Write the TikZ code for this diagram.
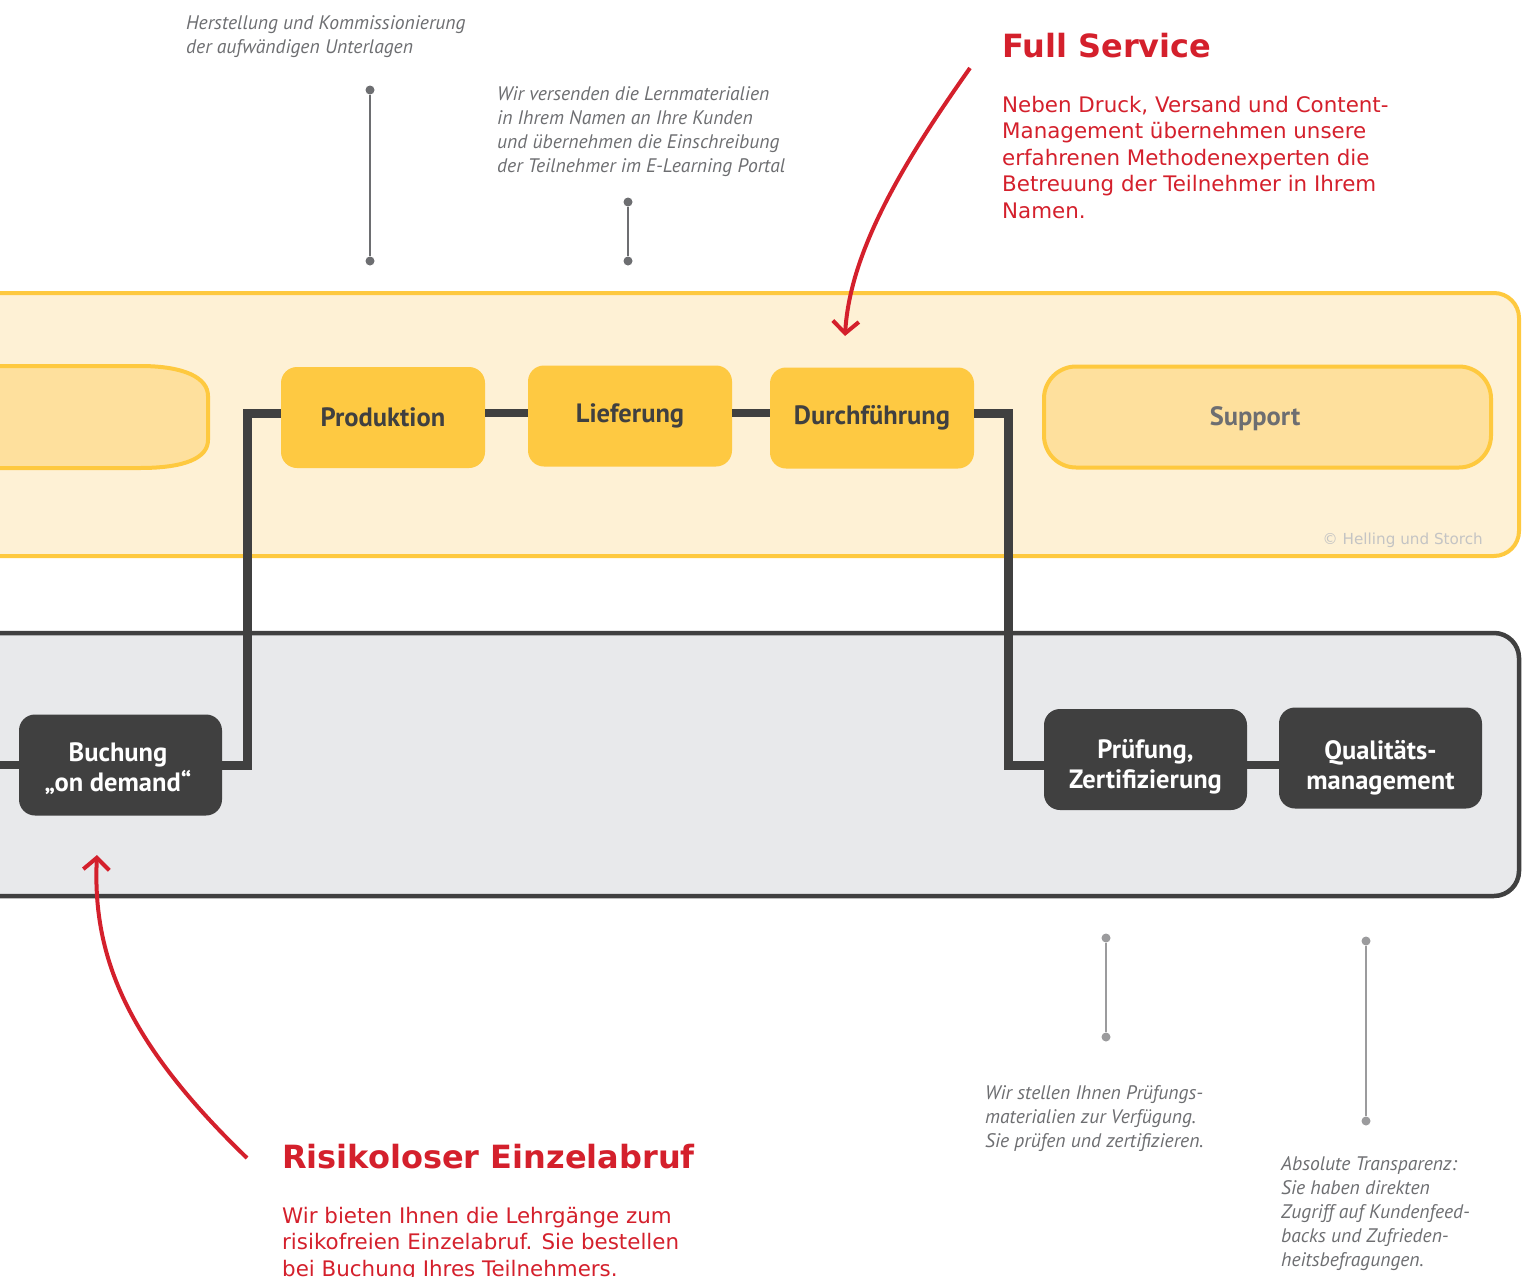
\documentclass[tikz,border=0pt]{standalone}
\usepackage{fontspec}
\setmainfont{PT Sans}
\newfontfamily\vfont{DejaVu Sans}
\usetikzlibrary{arrows.meta}
\definecolor{ybord}{HTML}{FEC93F}
\definecolor{yfill}{HTML}{FEF1D5}
\definecolor{ylight}{HTML}{FEE09D}
\definecolor{ymid}{HTML}{FEC942}
\definecolor{dgray}{HTML}{404040}
\definecolor{gband}{HTML}{E8E9EB}
\definecolor{rtext}{HTML}{D4202C}
\definecolor{gtext}{HTML}{6D6E71}
\definecolor{pintop}{HTML}{6D6E71}
\definecolor{pinbot}{HTML}{9B9B9D}
\definecolor{copyc}{HTML}{C4C4C4}
\newcommand{\ph}{\vphantom{Üg}}
\tikzset{
  ynode/.style={fill=ymid, rounded corners=16, minimum width=204, minimum height=101, inner sep=0,
    text=dgray, font=\bfseries\fontsize{26.5}{30}\selectfont},
  dnode/.style={fill=dgray, rounded corners=16, minimum width=203, minimum height=101, inner sep=0},
  dlabel/.style={inner sep=0, text=white, align=center, font=\bfseries\fontsize{26.5}{30}\selectfont},
  conn/.style={draw=dgray, line width=9},
  thinconn/.style={draw=dgray, line width=8},
  pindot/.style={circle, inner sep=0, minimum size=9},
  graytxt/.style={anchor=north west, inner sep=0, align=left, text=gtext,
    font=\itshape\fontsize{19.6}{24}\selectfont},
  redtitle/.style={anchor=north west, inner sep=0, align=left, text=rtext,
    font=\vfont\bfseries\fontsize{32}{38}\selectfont},
  redbody/.style={anchor=north west, inner sep=0, align=left, text=rtext,
    font=\vfont\fontsize{21.4}{26.5}\selectfont},
  redarrow/.style={draw=rtext, line width=4, -{Straight Barb[length=12, width=26, line width=4]}}
}
\begin{document}
\begin{tikzpicture}[x=1pt,y=-1pt]
\useasboundingbox (0,0) rectangle (1526,1277);
\clip (0,0) rectangle (1526,1277);
% bands
\draw[fill=yfill, draw=ybord, line width=4, rounded corners=25] (-40,293) rectangle (1519,556);
\draw[fill=gband, draw=dgray, line width=4.5, rounded corners=25] (-40,633) rectangle (1519,896);
% left partial node
\draw[fill=ylight, draw=ybord, line width=4] (-20,366) -- (140,366) .. controls (185,366) and (208,378) .. (208,396) -- (208,440) .. controls (208,458) and (185,468) .. (140,468) -- (-20,468) -- cycle;
% support
\node[fill=ylight, draw=ybord, line width=4, rounded corners=32, minimum width=447, minimum height=101, inner sep=0] (supp) at (1267.5,417) {};
\node[text=gtext, inner sep=0, font=\bfseries\fontsize{26.5}{30}\selectfont] (supptxt) at (1255,419) {Support};
\node[anchor=east, inner sep=0, text=copyc, font=\vfont\fontsize{15.2}{17}\selectfont] (copy) at (1483,540) {© Helling und Storch};
% yellow nodes
\node[ynode] (prod) at (383,417.5) {Produktion};
\node[ynode] (lief) at (630,416) {Lieferung};
\node[ynode] (durch) at (872,418) {Durchführung};
% dark nodes
\node[dnode] (buch) at (120.5,765) {};
\node[dnode] (pruef) at (1145.5,759.5) {};
\node[dnode] (qual) at (1380.5,758) {};
\node[dlabel] (buchT) at (118,768) {\ph Buchung\\\ph„on demand“};
\node[dlabel] (pruefT) at (1145.5,765) {\ph Prüfung,\\\ph Zertifizierung};
\node[dlabel] (qualT) at (1380.5,766) {\ph Qualitäts-\\\ph management};
% connectors
\coordinate (lj) at (247,413);
\coordinate (rj) at (1008,413);
\coordinate (lfree) at (-10,765);
\draw[conn] (prod.west |- lj) -- (lj) |- (buch.east);
\draw[thinconn] (prod.east |- lj) -- (lief.west |- lj);
\draw[thinconn] (lief.east |- lj) -- (durch.west |- lj);
\draw[conn] (durch.east |- rj) -- (rj) |- (pruef.west |- buch.east);
\draw[thinconn] (pruef.east |- buch.east) -- (qual.west |- buch.east);
\draw[thinconn] (lfree) -- (buch.west);
% pins
\node[pindot, fill=pintop] (p1a) at (370,90) {};
\node[pindot, fill=pintop] (p1b) at (370,261) {};
\draw[pintop, line width=2.5] (p1a) -- (p1b);
\node[pindot, fill=pintop] (p2a) at (628,202) {};
\node[pindot, fill=pintop] (p2b) at (628,261) {};
\draw[pintop, line width=2.5] (p2a) -- (p2b);
\node[pindot, fill=pinbot] (p3a) at (1106,938) {};
\node[pindot, fill=pinbot] (p3b) at (1106,1037) {};
\draw[pinbot, line width=2.5] (p3a) -- (p3b);
\node[pindot, fill=pinbot] (p4a) at (1366,941) {};
\node[pindot, fill=pinbot] (p4b) at (1366,1121) {};
\draw[pinbot, line width=2.5] (p4a) -- (p4b);
% gray texts
\node[graytxt] (t1) at (186,15) {Herstellung und Kommissionierung\\der aufwändigen Unterlagen};
\node[graytxt] (t2) at (497,86) {Wir versenden die Lernmaterialien\\in Ihrem Namen an Ihre Kunden\\und übernehmen die Einschreibung\\der Teilnehmer im E-Learning Portal};
\node[graytxt] (t3) at (985,1085) {Wir stellen Ihnen Prüfungs-\\materialien zur Verfügung.\\Sie prüfen und zertifizieren.};
\node[graytxt] (t4) at (1281,1156) {Absolute Transparenz:\\Sie haben direkten\\Zugriff auf Kundenfeed-\\backs und Zufrieden-\\heitsbefragungen.};
% red texts
\node[redtitle] (fs) at (1002,33) {Full Service};
\node[redbody] (fsb) at (1002,96) {Neben Druck, Versand und Content-\\Management übernehmen unsere\\erfahrenen Methodenexperten die\\Betreuung der Teilnehmer in Ihrem\\Namen.};
\node[redtitle] (re) at (282,1144) {Risikoloser Einzelabruf};
\node[redbody] (reb) at (282,1207) {Wir bieten Ihnen die Lehrgänge zum\\risikofreien Einzelabruf. Sie bestellen\\bei Buchung Ihres Teilnehmers.};
% red arrows
\coordinate (fsA) at (970,68);
\coordinate (fsB) at (845,336);
\draw[redarrow] (fsA) .. controls (905,160) and (850,250) .. (fsB);
\coordinate (reA) at (247,1158);
\coordinate (reB) at (97,855);
\draw[redarrow] (reA) .. controls (130,1045) and (92,960) .. (reB);
\end{tikzpicture}
\end{document}
